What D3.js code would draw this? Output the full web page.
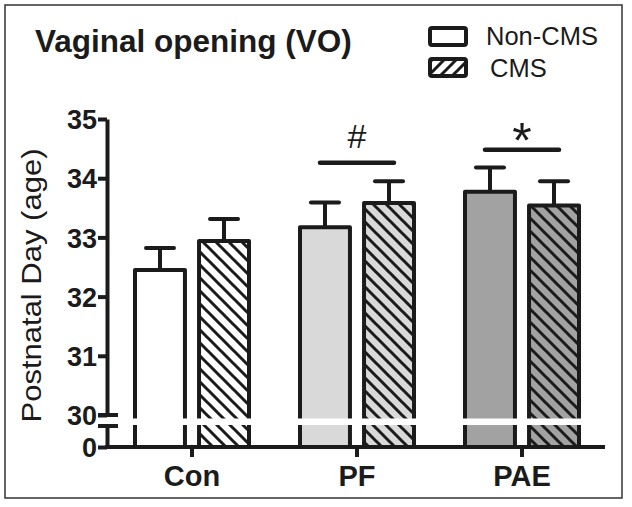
<!DOCTYPE html>
<html><head><meta charset="utf-8">
<script src="https://cdn.jsdelivr.net/npm/d3@7"></script>
<style>body{margin:0;background:#fff}svg{display:block}text{font-family:"Liberation Sans",Arial,sans-serif}</style>
</head><body><div id="chart"></div>
<script>
const categories = ["Con", "PF", "PAE"];
const groups = ["Non-CMS", "CMS"];
const nonCmsValues = [32.45, 33.17, 33.77];
const nonCmsErrors = [0.37, 0.42, 0.41];
const cmsValues = [32.94, 33.58, 33.54];
const cmsErrors = [0.37, 0.37, 0.41];
const fillColors = ["#ffffff", "#d9d9d9", "#a2a2a2"];
const upperTicks = [30, 31, 32, 33, 34, 35];
const lowerTicks = [0];
const sigGroups = ["PF", "PAE"];
const sigLabels = ["#", "*"];
const sigLevels = [34.26, 34.48];
const titleText = "Vaginal opening (VO)";
const yTitle = "Postnatal Day (age)";

const W = 632, H = 507;
const ink = "#1b1b1b";
const svg = d3.select("#chart").append("svg").attr("width", W).attr("height", H);

const defs = svg.append("defs");
fillColors.forEach((c, i) => {
  const p = defs.append("pattern").attr("id", "hatch" + i).attr("patternUnits", "userSpaceOnUse")
    .attr("width", 13).attr("height", 13);
  p.append("rect").attr("width", 13).attr("height", 13).attr("fill", c);
  p.append("path").attr("d", "M-3,-3L16,16M-3,10L3,16M10,-3L16,3").attr("stroke", ink).attr("stroke-width", 3);
});
const lp = defs.append("pattern").attr("id", "hatchLegend").attr("patternUnits", "userSpaceOnUse")
  .attr("width", 12).attr("height", 12);
lp.append("rect").attr("width", 12).attr("height", 12).attr("fill", "#fff");
lp.append("path").attr("d", "M-3,15L15,-3M-3,3L3,-3M9,15L15,9").attr("stroke", ink).attr("stroke-width", 3);

// frame
svg.append("rect").attr("x", 5).attr("y", 5).attr("width", 617).attr("height", 493)
  .attr("fill", "none").attr("stroke", "#333").attr("stroke-width", 1.5);

const x0 = d3.scaleBand().domain(categories).range([109.5, 604.5]).padding(0);
const x1 = d3.scaleBand().domain(groups).range([25.5, 139.5]).paddingInner(0.22).paddingOuter(0);
const yTop = d3.scaleLinear().domain([30, 35]).range([415, 119]);
const yLow = d3.scaleLinear().domain([0, 1]).range([447, 426]);
const base = yLow(0);

const data = [];
categories.forEach((c, i) => {
  data.push({cat: c, grp: groups[0], v: nonCmsValues[i], e: nonCmsErrors[i], i});
  data.push({cat: c, grp: groups[1], v: cmsValues[i], e: cmsErrors[i], i});
});

const g = svg.append("g");
const eb = g.selectAll(".eb").data(data).join("g");
eb.append("line")
  .attr("x1", d => x0(d.cat) + x1(d.grp) + x1.bandwidth() / 2)
  .attr("x2", d => x0(d.cat) + x1(d.grp) + x1.bandwidth() / 2)
  .attr("y1", d => yTop(d.v)).attr("y2", d => yTop(d.v + d.e))
  .attr("stroke", ink).attr("stroke-width", 4);
eb.append("line")
  .attr("x1", d => x0(d.cat) + x1(d.grp) + x1.bandwidth() / 2 - 14)
  .attr("x2", d => x0(d.cat) + x1(d.grp) + x1.bandwidth() / 2 + 14)
  .attr("y1", d => yTop(d.v + d.e)).attr("y2", d => yTop(d.v + d.e))
  .attr("stroke", ink).attr("stroke-width", 4).attr("stroke-linecap", "round");

g.selectAll(".bar").data(data).join("rect")
  .attr("x", d => x0(d.cat) + x1(d.grp))
  .attr("width", x1.bandwidth())
  .attr("y", d => yTop(d.v))
  .attr("height", d => base - yTop(d.v))
  .attr("fill", d => d.grp === groups[0] ? fillColors[d.i] : `url(#hatch${d.i})`)
  .attr("stroke", ink).attr("stroke-width", 4).attr("stroke-linejoin", "round");

// axis break band
svg.append("rect").attr("x", 112).attr("y", 418.5).attr("width", 490).attr("height", 6.5).attr("fill", "#fff");

const styleAxis = sel => {
  sel.selectAll("path,line").attr("stroke", ink).attr("stroke-width", 4);
  sel.selectAll("text").attr("fill", ink).attr("font-size", 27).attr("font-weight", "bold")
    .attr("font-family", "'Liberation Sans', Arial, sans-serif");
};
const axX = 107;
svg.append("g").attr("transform", `translate(${axX},0)`)
  .call(d3.axisLeft(yTop).tickValues(upperTicks).tickSize(9).tickSizeOuter(0).tickPadding(1).tickFormat(d3.format("d")))
  .call(styleAxis).call(s => s.selectAll("text").attr("dy", "0.36em"));
svg.append("g").attr("transform", `translate(${axX},0)`)
  .call(d3.axisLeft(yLow).tickValues(lowerTicks).tickSize(9).tickSizeOuter(0).tickPadding(1).tickFormat(d3.format("d")))
  .call(styleAxis).call(s => s.selectAll("text").attr("dy", "0.36em"));
[yTop(30), yLow(1)].forEach(yy => {
  svg.append("line").attr("x1", 98).attr("x2", 118).attr("y1", yy).attr("y2", yy)
    .attr("stroke", ink).attr("stroke-width", 4);
});

const xa = svg.append("g").attr("transform", `translate(0,${base})`)
  .call(d3.axisBottom(x0).tickSize(10).tickSizeOuter(0).tickPadding(8));
xa.select(".domain").remove();
xa.selectAll("line").attr("stroke", ink).attr("stroke-width", 4);
xa.selectAll("text").attr("fill", ink).attr("font-size", 29).attr("font-weight", "bold")
  .attr("font-family", "'Liberation Sans', Arial, sans-serif").attr("dy", "0.71em");
svg.append("line").attr("x1", axX - 2).attr("x2", 605).attr("y1", base).attr("y2", base)
  .attr("stroke", ink).attr("stroke-width", 4);

sigGroups.forEach((c, k) => {
  const cx = x0(c) + x0.bandwidth() / 2;
  const yy = yTop(sigLevels[k]);
  svg.append("line").attr("x1", cx - 37).attr("x2", cx + 37).attr("y1", yy).attr("y2", yy)
    .attr("stroke", ink).attr("stroke-width", 4.5).attr("stroke-linecap", "round");
  const t = svg.append("text").attr("x", cx).attr("text-anchor", "middle").attr("fill", ink).text(sigLabels[k]);
  if (sigLabels[k] === "#") t.attr("y", yy - 15).attr("font-size", 34);
  else t.attr("y", yy + 8).attr("font-size", 50);
});

svg.append("text").attr("x", 35).attr("y", 52).attr("font-size", 31.5).attr("font-weight", "bold")
  .attr("fill", ink).text(titleText);
svg.append("text").attr("transform", "translate(41,285.5) rotate(-90)").attr("text-anchor", "middle")
  .attr("font-size", 28).attr("fill", ink).attr("textLength", 274).attr("lengthAdjust", "spacingAndGlyphs")
  .text(yTitle);

const leg = svg.append("g");
groups.forEach((gname, k) => {
  const ly = k === 0 ? 28 : 59;
  leg.append("rect").attr("x", 430).attr("y", ly).attr("width", 36).attr("height", 17).attr("rx", 2)
    .attr("fill", k === 0 ? "#fff" : "url(#hatchLegend)").attr("stroke", ink).attr("stroke-width", 4);
  leg.append("text").attr("x", k === 0 ? 486 : 490).attr("y", k === 0 ? 45 : 77)
    .attr("font-size", 25.5).attr("fill", ink).text(gname);
});
</script></body></html>
